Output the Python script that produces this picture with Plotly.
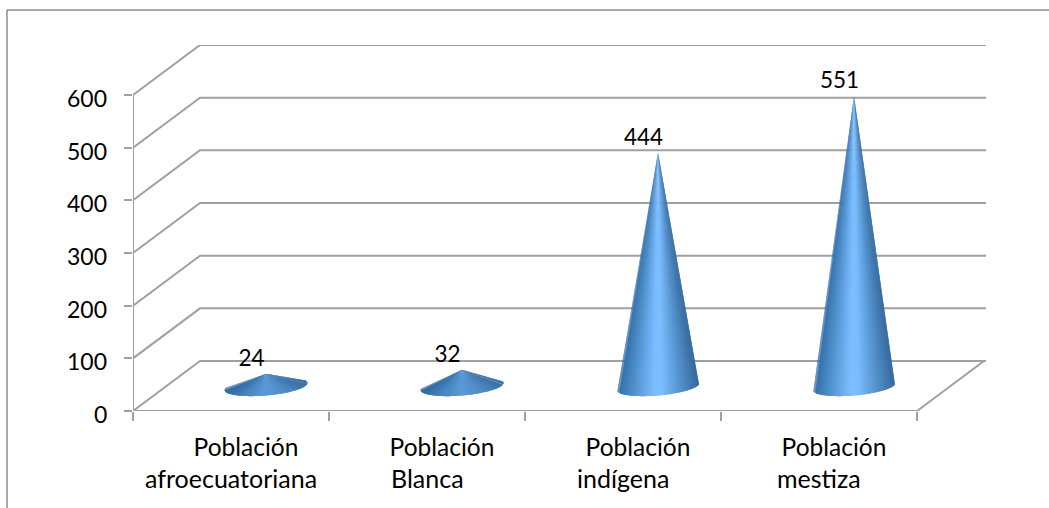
import numpy as np
import plotly.graph_objects as go

# ---- data ----
line1 = ["Población", "Población", "Población", "Población"]
line2 = ["afroecuatoriana", "Blanca", "indígena", "mestiza"]
values = [24, 32, 444, 551]
y_ticks = [0, 100, 200, 300, 400, 500, 600]

# ---- pseudo-3D geometry (axis units) ----
W, H = 1049, 508
L, R, T, B = 133, 63, 45, 97
PX_X = 196.0            # px per category
PX_Y = 0.5267           # px per value unit
XMAX = (W - L - R) / PX_X
YMAX = (H - T - B) / PX_Y
DX = 67 / PX_X          # depth offset
DY = 50 / PX_Y
N = len(values)
GRID = "#a0a0a0"
FONT = "Lato"

fig = go.Figure()

# walls: gridlines with depth
for v in y_ticks:
    fig.add_trace(go.Scatter(x=[0, DX, XMAX], y=[v, v + DY, v + DY], mode="lines",
                             line=dict(color=GRID, width=2), hoverinfo="skip",
                             showlegend=False, cliponaxis=False))
# floor
fig.add_trace(go.Scatter(x=[0, N, N + DX, DX], y=[0, 0, DY, DY], mode="lines",
                         line=dict(color=GRID, width=2), hoverinfo="skip",
                         showlegend=False, cliponaxis=False))
# value axis line
fig.add_trace(go.Scatter(x=[0, 0], y=[0, y_ticks[-1]], mode="lines",
                         line=dict(color=GRID, width=2), hoverinfo="skip",
                         showlegend=False, cliponaxis=False))

# cone shading
POS = np.array([0.0, 0.2, 0.45, 0.55, 0.78, 1.0])
TALL = np.array([[50, 108, 165], [80, 145, 205], [123, 189, 255], [123, 189, 255], [84, 145, 204], [52, 104, 155]], float)
FLAT = np.array([[50, 105, 160], [70, 130, 190], [88, 152, 212], [88, 152, 212], [78, 138, 196], [60, 112, 165]], float)


def shade(u, table):
    return "rgb(%d,%d,%d)" % tuple(np.interp(u, POS, table[:, k]) for k in range(3))


A = 41.5 / PX_X
BASE_Y = 24.5 / PX_Y
TILT = 3.5 / PX_Y
BH = 9.0 / PX_Y
STRIPS = 70
CONE_SHIFT = 1.5 / PX_X


def base_point(t, cx):
    return cx + A * np.cos(t), BASE_Y + TILT * np.cos(t) + BH * np.sin(t)


for i, val in enumerate(values):
    cx = i + 0.5 + DX / 2 + CONE_SHIFT
    table = TALL if val > 100 else FLAT
    apex_x, apex_y = cx, BASE_Y + val
    # tangent points of the silhouette seen from the apex
    left_t = np.linspace(np.pi / 2, 3 * np.pi / 2, 721)
    right_t = np.linspace(3 * np.pi / 2, 5 * np.pi / 2, 721)
    lx, ly = base_point(left_t, cx)
    rx, ry = base_point(right_t, cx)
    t0 = left_t[np.argmin((lx - apex_x) / (apex_y - ly))]
    t1 = right_t[np.argmax((rx - apex_x) / (apex_y - ry))]
    ts = np.linspace(t0, t1, STRIPS + 1)
    ex, ey = base_point(ts, cx)
    for s in range(STRIPS):
        e = min(s + 2, STRIPS)
        c = shade((ex[s] + ex[s + 1] - 2 * (cx - A)) / (4 * A), table)
        fig.add_trace(go.Scatter(x=[apex_x, ex[s], ex[s + 1], ex[e], apex_x],
                                 y=[apex_y, ey[s], ey[s + 1], ey[e], apex_y],
                                 mode="lines", fill="toself", fillcolor=c,
                                 line=dict(color=c, width=0), hoverinfo="skip",
                                 showlegend=False))

# data labels
fig.add_trace(go.Scatter(x=[i + 0.5 + DX / 2 - 13 / PX_X for i in range(N)],
                         y=[v + BASE_Y + 13.5 / PX_Y for v in values],
                         text=[str(v) for v in values], mode="text",
                         textposition="middle center",
                         textfont=dict(family=FONT, size=22.5, color="black"),
                         showlegend=False, cliponaxis=False, hoverinfo="skip"))

# second line of the category labels
annotations = [dict(x=i + 0.5, y=0, xref="x", yref="y", yshift=-67, text=t, showarrow=False,
                    xanchor="center", yanchor="middle",
                    font=dict(family=FONT, size=25, color="black")) for i, t in enumerate(line2)]
# value labels (sit a little below their tick marks)
annotations += [dict(x=0, y=v, xref="x", yref="y", xshift=-24, yshift=-3, text=str(v), showarrow=False,
                     xanchor="right", yanchor="middle",
                     font=dict(family=FONT, size=23, color="black")) for v in y_ticks]

# chart frame (top and left edges only)
fx = (7 - L) / (W - L - R)
fy = 1 + (T - 10) / (H - T - B)
fb = -B / (H - T - B)
shapes = [
    dict(type="line", xref="paper", yref="paper", x0=fx, x1=(W - L) / (W - L - R), y0=fy, y1=fy,
         line=dict(color="#8c8c8c", width=1.5)),
    dict(type="line", xref="paper", yref="paper", x0=fx, x1=fx, y0=fy, y1=fb,
         line=dict(color="#8c8c8c", width=1.5)),
]

fig.update_layout(
    width=W, height=H, margin=dict(l=L, r=R, t=T, b=B, pad=0),
    paper_bgcolor="white", plot_bgcolor="white", showlegend=False,
    shapes=shapes, annotations=annotations,
    xaxis=dict(range=[0, XMAX], showgrid=False, zeroline=False, showline=False,
               tickmode="array", tickvals=[i + 0.5 + 15 / PX_X for i in range(N)], ticktext=line1,
               ticks="", ticklabelstandoff=19, tickfont=dict(family=FONT, size=24.5, color="black"),
               minor=dict(tickmode="array", tickvals=list(range(N + 1)), ticks="outside",
                          ticklen=9, tickwidth=1.5, tickcolor=GRID, showgrid=False)),
    yaxis=dict(range=[0, YMAX], showgrid=False, zeroline=False, showline=False,
               tickmode="array", tickvals=y_ticks, showticklabels=False,
               ticks="outside", ticklen=8, tickwidth=1.5, tickcolor=GRID),
)

fig.write_html("out.html", config=dict(displayModeBar=False),
               post_script="document.body.style.margin='0';document.body.style.overflow='hidden';")
